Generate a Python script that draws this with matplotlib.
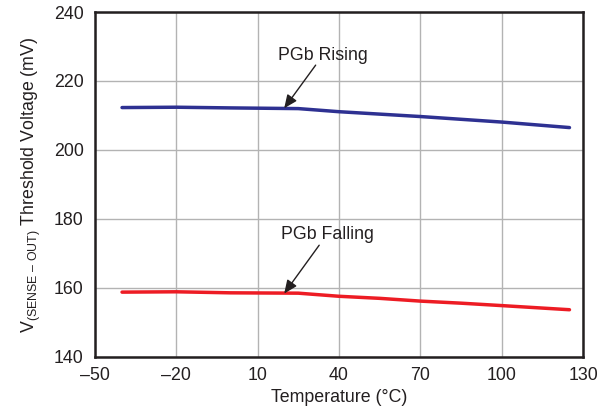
import matplotlib
matplotlib.use("Agg")
import matplotlib.pyplot as plt

plt.rcParams['font.family'] = ['Liberation Sans', 'DejaVu Sans']
plt.rcParams['mathtext.fontset'] = 'custom'
plt.rcParams['mathtext.rm'] = 'Liberation Sans'
plt.rcParams['mathtext.it'] = 'Liberation Sans'

temp = [-40, -20, 0, 25, 40, 55, 70, 85, 100, 125]
rising = [212.3, 212.4, 212.2, 212.0, 211.1, 210.4, 209.7, 208.9, 208.1, 206.5]
falling = [158.8, 158.9, 158.6, 158.5, 157.6, 157.0, 156.2, 155.6, 154.9, 153.7]

xticks = [-50, -20, 10, 40, 70, 100, 130]
yticks = [140, 160, 180, 200, 220, 240]

FS = 12.8
INK = '#231f20'

fig = plt.figure(figsize=(5.97, 4.11), dpi=100)
ax = fig.add_axes([0.159, 0.1314, 0.8176, 0.8394])

ax.plot(temp, rising, color='#2e3192', lw=2.5, solid_capstyle='round', zorder=3)
ax.plot(temp, falling, color='#ed1c24', lw=2.5, solid_capstyle='round', zorder=3)

ax.set_xlim(-50, 130)
ax.set_ylim(140, 240)
ax.set_xticks(xticks)
ax.set_yticks(yticks)
ax.set_xticklabels([str(t).replace('-', '\u2013') for t in xticks])
ax.grid(True, color='#b3b3b3', lw=1.0)
ax.set_axisbelow(True)
ax.tick_params(length=0, labelsize=FS, colors=INK)
ax.tick_params(axis='y', pad=8)
ax.tick_params(axis='x', pad=7)
for s in ax.spines.values():
    s.set_linewidth(1.8)
    s.set_color(INK)

ax.set_xlabel('Temperature (\u00b0C)', fontsize=FS, color=INK, labelpad=4)
ax.set_ylabel('V$_{\\mathrm{(SENSE\\ \u2013\\ OUT)}}$ Threshold Voltage (mV)', fontsize=FS,
              color=INK, labelpad=8)

ax.text(34.1, 227.5, 'PGb Rising', ha='center', va='center', fontsize=FS, color=INK)
ax.annotate('', xy=(19.8, 212.1), xytext=(31.4, 224.6),
            arrowprops=dict(arrowstyle='-|>,head_length=0.8,head_width=0.35', color=INK, lw=1.0, shrinkA=0, shrinkB=0))
ax.text(35.8, 175.6, 'PGb Falling', ha='center', va='center', fontsize=FS, color=INK)
ax.annotate('', xy=(19.8, 158.4), xytext=(32.7, 172.4),
            arrowprops=dict(arrowstyle='-|>,head_length=0.8,head_width=0.35', color=INK, lw=1.0, shrinkA=0, shrinkB=0))

fig.savefig('out.png', dpi=100)
